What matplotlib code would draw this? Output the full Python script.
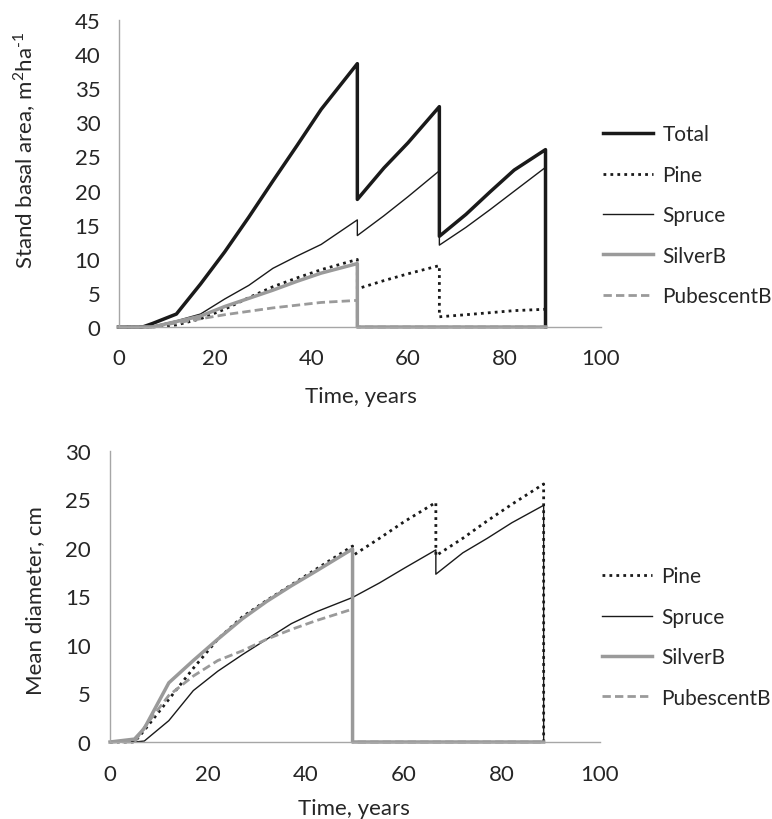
import matplotlib
matplotlib.use("Agg")
import matplotlib.pyplot as plt

plt.rcParams['font.family'] = ['Lato', 'DejaVu Sans']
plt.rcParams['mathtext.fontset'] = 'custom'
plt.rcParams['mathtext.rm'] = 'Lato'

# time axis shared by both panels (repeated years = thinning / clear cut)
years = [0, 5, 7, 12, 17, 22, 27, 32, 37, 42, 49.5, 49.5, 55, 60, 66.5, 66.5,
         72, 77, 82, 88.5, 88.5]

# stand basal area, m2/ha
ba_total = [0, 0, 0.5, 1.9, 6.3, 11.0, 16.1, 21.4, 26.6, 31.9, 38.6, 18.7, 23.3,
            27.0, 32.3, 13.3, 16.5, 19.8, 23.0, 26.0, 0]
ba_pine = [0, 0, 0, 0.3, 1.2, 2.6, 4.3, 5.9, 7.2, 8.4, 9.9, 5.6, 6.8, 7.8, 9.0,
           1.5, 1.8, 2.1, 2.4, 2.6, 0]
ba_spruce = [0, 0, 0.1, 0.9, 1.9, 4.1, 6.1, 8.6, 10.4, 12.1, 15.7, 13.4, 16.3,
             19.1, 22.9, 12.0, 14.6, 17.2, 19.9, 23.4, 0]
ba_silver = [0, 0, 0, 0.8, 1.6, 3.0, 4.2, 5.4, 6.7, 7.9, 9.3, 0, 0, 0, 0, 0,
             0, 0, 0, 0, 0]
ba_pubes = [0, 0, 0, 0.6, 1.2, 1.8, 2.3, 2.8, 3.2, 3.6, 3.9, 0, 0, 0, 0, 0,
            0, 0, 0, 0, 0]

# mean diameter, cm
d_pine = [0, 0, 1.2, 4.4, 7.6, 10.6, 12.9, 14.6, 16.2, 17.8, 20.2, 19.2, 21.0,
          22.7, 24.7, 19.2, 21.0, 22.8, 24.5, 26.6, 0]
d_spruce = [0, 0, 0.1, 2.2, 5.3, 7.3, 9.0, 10.6, 12.2, 13.4, 14.9, 14.9, 16.4,
            17.9, 19.8, 17.3, 19.5, 21.0, 22.6, 24.4, 0]
d_silver = [0, 0.3, 1.4, 6.1, 8.4, 10.6, 12.7, 14.5, 16.1, 17.6, 19.9, 0, 0, 0,
            0, 0, 0, 0, 0, 0, 0]
d_pubes = [0, 0, 1.5, 4.8, 6.8, 8.4, 9.4, 10.6, 11.6, 12.5, 13.7, 0, 0, 0, 0,
           0, 0, 0, 0, 0, 0]

axis_grey = '#a6a6a6'
birch_grey = '#9a9a9a'
txt = '#262626'
FS = 16
LFS = 15

fig = plt.figure(figsize=(7.72, 8.2), dpi=100)
ax1 = fig.add_axes([0.1535, 0.6, 0.625, 0.3744])
ax2 = fig.add_axes([0.1425, 0.0939, 0.6347, 0.3549])


def style(ax, ymax, ystep, xpad, ypad):
    ax.set_xlim(0, 100)
    ax.set_ylim(0, ymax)
    ax.set_xticks(range(0, 101, 20))
    ax.set_yticks(range(0, ymax + 1, ystep))
    for s in ['top', 'right']:
        ax.spines[s].set_visible(False)
    for s in ['left', 'bottom']:
        ax.spines[s].set_color(axis_grey)
        ax.spines[s].set_linewidth(1.0)
    ax.tick_params(axis='x', length=0, pad=xpad, labelsize=FS, colors=txt)
    ax.tick_params(axis='y', length=0, pad=ypad, labelsize=FS, colors=txt)


style(ax1, 45, 5, 15, 13)
style(ax2, 30, 5, 16, 14)

# top panel
ax1.plot(years, ba_total, color='#1a1a1a', lw=2.5, label='Total', clip_on=False)
ax1.plot(years, ba_pine, color='#1a1a1a', lw=2, ls=(0, (1, 1.5)), label='Pine', clip_on=False)
ax1.plot(years, ba_spruce, color='#1a1a1a', lw=1, label='Spruce', clip_on=False)
ax1.plot(years, ba_silver, color=birch_grey, lw=2.5, label='SilverB', clip_on=False)
ax1.plot(years, ba_pubes, color=birch_grey, lw=2, ls=(0, (3, 1.5)), label='PubescentB', clip_on=False)

# bottom panel
ax2.plot(years, d_pine, color='#1a1a1a', lw=2, ls=(0, (1, 1.5)), label='Pine', clip_on=False)
ax2.plot(years, d_spruce, color='#1a1a1a', lw=1, label='Spruce', clip_on=False)
ax2.plot(years, d_silver, color=birch_grey, lw=2.5, label='SilverB', clip_on=False)
ax2.plot(years, d_pubes, color=birch_grey, lw=2, ls=(0, (3, 1.5)), label='PubescentB', clip_on=False)

leg_kw = dict(frameon=False, fontsize=LFS, handlelength=2.4, handletextpad=0.45,
              labelspacing=0.98, borderpad=0, borderaxespad=0, loc='upper left',
              labelcolor=txt)
fig.legend(*ax1.get_legend_handles_labels(), bbox_to_anchor=(0.781, 0.847), **leg_kw)
fig.legend(*ax2.get_legend_handles_labels(), bbox_to_anchor=(0.780, 0.308), **leg_kw)

fig.text(0.0324, 0.817, r'Stand basal area, m$^{2}$ha$^{\text{-}1}$', rotation=90,
         ha='center', va='center', fontsize=FS, color=txt)
fig.text(0.046, 0.268, 'Mean diameter, cm', rotation=90,
         ha='center', va='center', fontsize=FS, color=txt)
fig.text(0.467, 0.5082, 'Time, years', ha='center', va='baseline', fontsize=FS, color=txt)
fig.text(0.459, 0.006, 'Time, years', ha='center', va='baseline', fontsize=FS, color=txt)

fig.savefig('out.png', dpi=100)
